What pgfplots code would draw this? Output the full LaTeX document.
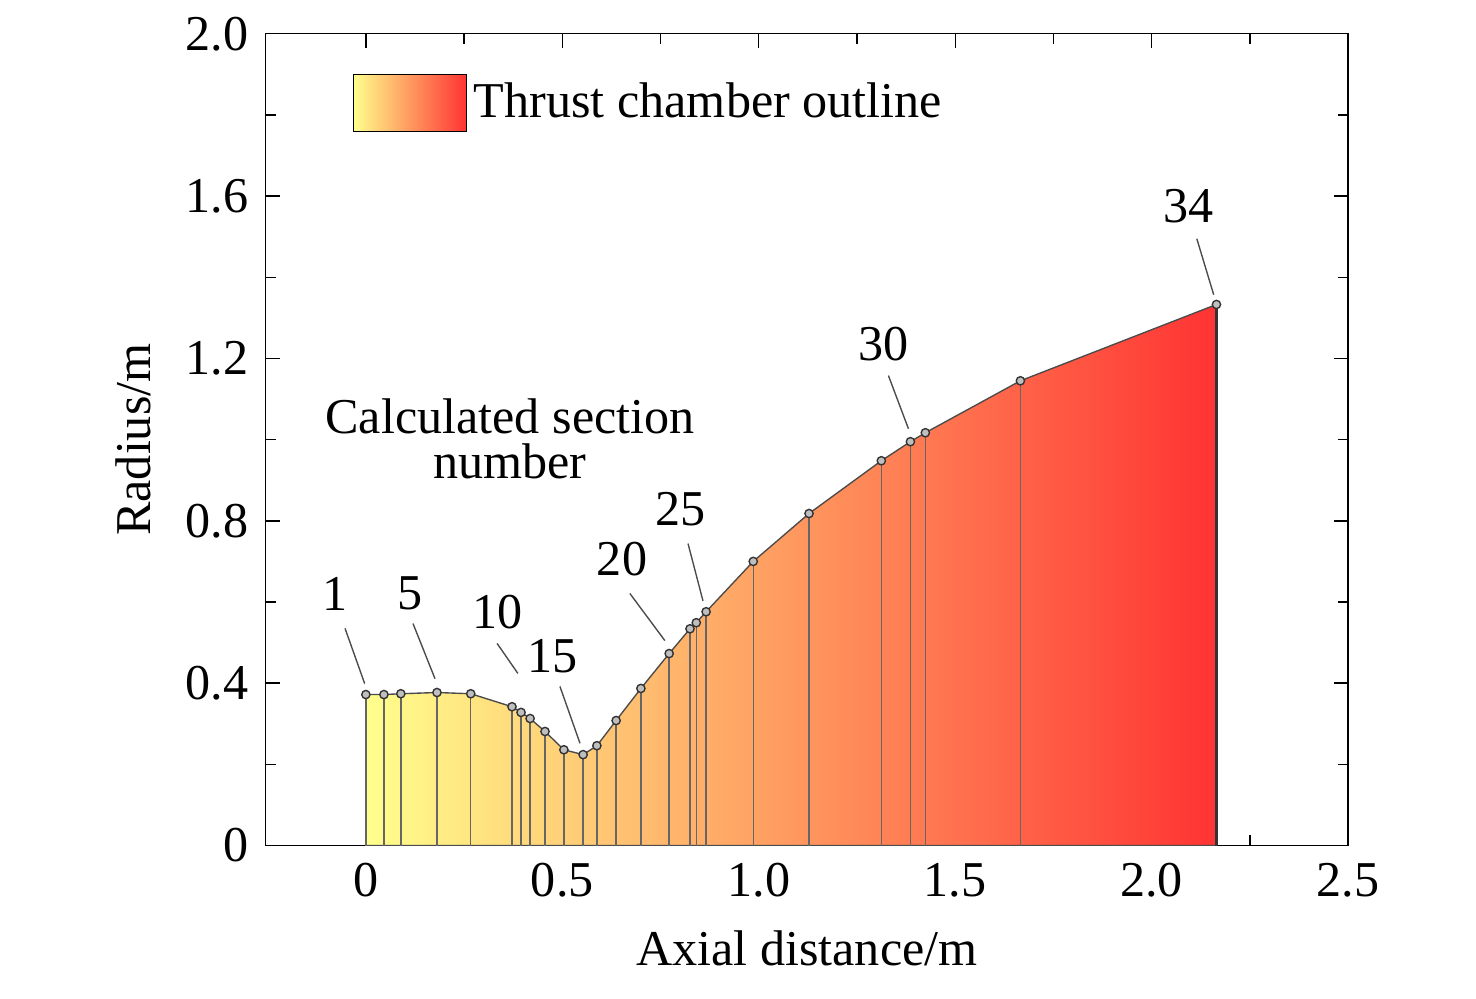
\documentclass[border=0pt]{standalone}
\usepackage{pgfplots}
\pgfplotsset{compat=1.18}
\usepackage{fontspec}
\setmainfont{Liberation Serif}
\begin{document}
\fontsize{14.5}{16}\selectfont
\begin{tikzpicture}
\begin{axis}[scale only axis, width=11cm, height=8.25cm,
  xmin=-0.255, xmax=2.5, ymin=0, ymax=2.0,
  xtick={0,0.5,1,1.5,2,2.5}, xticklabels={0,0.5,1.0,1.5,2.0,2.5},
  ytick={0,0.4,0.8,1.2,1.6,2.0}, yticklabels={0,0.4,0.8,1.2,1.6,2.0},
  minor x tick num=1, minor y tick num=1,
  tick align=inside, tick style={black,thin}, major tick length=4pt, minor tick length=3pt,
  xlabel={Axial distance/m}, ylabel={Radius/m},
  axis line style={thin},
  legend style={draw=none, fill=none, at={(0.07,0.96)}, anchor=north west, font=\fontsize{14.5}{16}\selectfont},
  legend cell align=left,
  every tick label/.append style={font=\fontsize{14.5}{16}\selectfont},
  label style={font=\fontsize{14.5}{16}\selectfont},
]
\addplot[draw=black!70, thin, left color=yellow!45, right color=red!80, area legend,
  legend image code/.code={\draw[black,thin,left color=yellow!45,right color=red!80] (0cm,-0.28cm) rectangle (1.15cm,0.3cm);}]
 coordinates {(0,0.372)(0.046,0.372)(0.089,0.374)(0.181,0.377)(0.267,0.374)(0.372,0.342)(0.395,0.328)(0.418,0.313)(0.456,0.281)(0.504,0.236)(0.553,0.224)(0.588,0.246)(0.637,0.308)(0.700,0.387)(0.772,0.473)(0.825,0.534)(0.841,0.549)(0.866,0.576)(0.986,0.700)(1.128,0.818)(1.312,0.948)(1.386,0.995)(1.424,1.017)(1.666,1.145)(2.165,1.333)} \closedcycle;
\addlegendentry{Thrust chamber outline}
\addplot[ycomb, black!60, thin, mark=*, mark size=1.2pt, mark options={fill=gray!50, draw=black!80}, forget plot]
 coordinates {(0,0.372)(0.046,0.372)(0.089,0.374)(0.181,0.377)(0.267,0.374)(0.372,0.342)(0.395,0.328)(0.418,0.313)(0.456,0.281)(0.504,0.236)(0.553,0.224)(0.588,0.246)(0.637,0.308)(0.700,0.387)(0.772,0.473)(0.825,0.534)(0.841,0.549)(0.866,0.576)(0.986,0.700)(1.128,0.818)(1.312,0.948)(1.386,0.995)(1.424,1.017)(1.666,1.145)(2.165,1.333)};
\draw[black!80,semithick] (2.165,0)--(2.165,1.333);
\begin{scope}[every node/.style={font=\fontsize{14.5}{16}\selectfont}]
\node at (axis cs:-0.079,0.621) {1};
\node at (axis cs:0.112,0.621) {5};
\node at (axis cs:0.334,0.576) {10};
\node at (axis cs:0.476,0.466) {15};
\node at (axis cs:0.652,0.707) {20};
\node at (axis cs:0.800,0.830) {25};
\node at (axis cs:1.317,1.236) {30};
\node at (axis cs:2.094,1.576) {34};
\node[align=center] at (axis cs:0.367,1.002) {Calculated section\\[-3pt]number};
\end{scope}
\draw[black!70] (axis cs:-0.053,0.535)--(axis cs:-0.003,0.399);
\draw[black!70] (axis cs:0.120,0.547)--(axis cs:0.176,0.411);
\draw[black!70] (axis cs:0.334,0.498)--(axis cs:0.387,0.424);
\draw[black!70] (axis cs:0.494,0.392)--(axis cs:0.545,0.252);
\draw[black!70] (axis cs:0.672,0.621)--(axis cs:0.761,0.505);
\draw[black!70] (axis cs:0.820,0.744)--(axis cs:0.858,0.603);
\draw[black!70] (axis cs:1.330,1.158)--(axis cs:1.381,1.027);
\draw[black!70] (axis cs:2.115,1.495)--(axis cs:2.158,1.357);
\end{axis}
\useasboundingbox ([xshift=-2.7cm,yshift=-1.55cm]current axis.south west) rectangle ([xshift=1.3cm,yshift=0.25cm]current axis.north east);
\end{tikzpicture}
\end{document}
